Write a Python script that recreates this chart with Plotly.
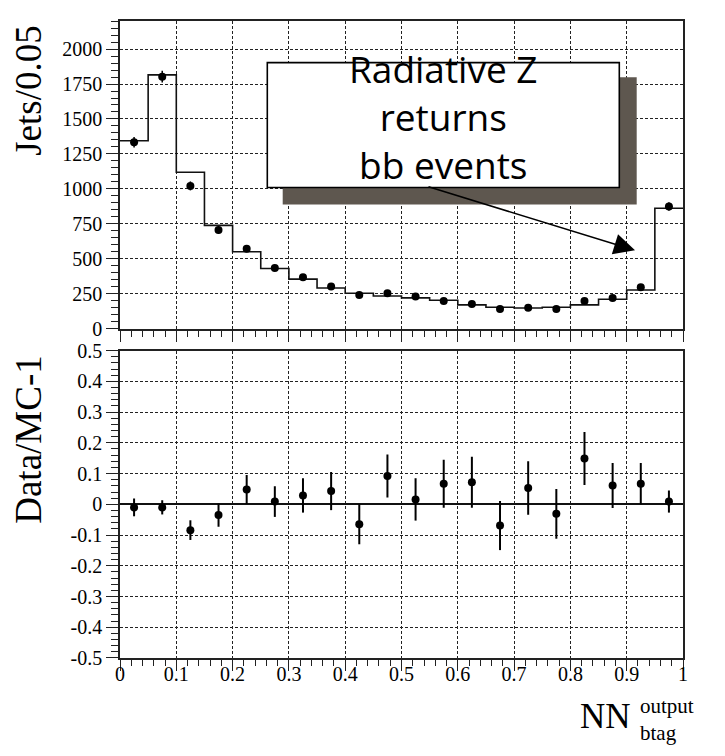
import plotly.graph_objects as go

# Bin centres of the NN b-tag output (bin width 0.05)
bin_centres = [0.025, 0.075, 0.125, 0.175, 0.225, 0.275, 0.325, 0.375, 0.425, 0.475,
               0.525, 0.575, 0.625, 0.675, 0.725, 0.775, 0.825, 0.875, 0.925, 0.975]
bin_edges = [0.0, 0.05, 0.10, 0.15, 0.20, 0.25, 0.30, 0.35, 0.40, 0.45, 0.50,
             0.55, 0.60, 0.65, 0.70, 0.75, 0.80, 0.85, 0.90, 0.95, 1.0]

# Simulated (MC) jets per bin
mc_jets = [1345, 1815, 1120, 740, 552, 432, 356, 293, 255, 236,
           222, 205, 172, 155, 150, 155, 172, 212, 278, 862]

# Observed jets per bin with statistical errors
data_jets = [1334, 1802, 1022, 707, 573, 435, 369, 304, 243, 255,
             232, 200, 178, 143, 152, 143, 200, 222, 298, 875]
data_err = [37, 42, 32, 27, 24, 21, 19, 17, 16, 16,
            15, 14, 13, 12, 12, 12, 14, 15, 17, 30]

# Data/MC - 1 with errors
ratio = [-0.010, -0.010, -0.084, -0.035, 0.048, 0.009, 0.029, 0.043, -0.065, 0.092,
         0.016, 0.067, 0.072, -0.069, 0.053, -0.031, 0.149, 0.061, 0.067, 0.009]
ratio_err = [0.029, 0.023, 0.032, 0.038, 0.047, 0.050, 0.056, 0.062, 0.065, 0.070,
             0.069, 0.078, 0.083, 0.080, 0.087, 0.081, 0.086, 0.073, 0.067, 0.036]

x_ticks = [0, 0.1, 0.2, 0.3, 0.4, 0.5, 0.6, 0.7, 0.8, 0.9, 1.0]
x_ticktext = ["0", "0.1", "0.2", "0.3", "0.4", "0.5", "0.6", "0.7", "0.8", "0.9", "1"]
top_yticks = [0, 250, 500, 750, 1000, 1250, 1500, 1750, 2000]
bot_yticks = [-0.5, -0.4, -0.3, -0.2, -0.1, 0, 0.1, 0.2, 0.3, 0.4, 0.5]
bot_yticktext = ["-0.5", "-0.4", "-0.3", "-0.2", "-0.1", "0", "0.1", "0.2", "0.3", "0.4", "0.5"]

SERIF = "Liberation Serif"
W, H = 725, 756
ML, MR, MT, MB = 120, 42, 10, 98
PW, PH = W - ML - MR, H - MT - MB


def px(x):
    return (x - ML) / PW


def py(y):
    return (H - MB - y) / PH


fig = go.Figure()

# MC histogram as a step line
fig.add_trace(go.Scatter(
    x=bin_edges, y=mc_jets + [mc_jets[-1]], mode="lines", line_shape="hv",
    line=dict(color="#111", width=1.6), xaxis="x", yaxis="y", showlegend=False,
    hoverinfo="skip"))

# Data points
fig.add_trace(go.Scatter(
    x=bin_centres, y=data_jets, mode="markers",
    marker=dict(color="black", size=8),
    error_y=dict(type="data", array=data_err, color="black", thickness=1.5, width=0),
    xaxis="x", yaxis="y", showlegend=False))

# Ratio points
fig.add_trace(go.Scatter(
    x=bin_centres, y=ratio, mode="markers",
    marker=dict(color="black", size=8),
    error_y=dict(type="data", array=ratio_err, color="black", thickness=2, width=0),
    xaxis="x2", yaxis="y2", showlegend=False))

tickfont = dict(family=SERIF, size=20, color="black")
grid = dict(showgrid=True, gridcolor="#222", gridwidth=1, griddash="3px,2px")
axline = dict(showline=True, linecolor="#222", linewidth=1.6, mirror=True)

xcommon = dict(range=[0, 1], tickvals=x_ticks, ticktext=x_ticktext,
               ticks="outside", ticklen=11, tickwidth=1.4, tickcolor="#222",
               minor=dict(dtick=0.02, ticks="outside", ticklen=6, tickwidth=1.2,
                          tickcolor="#222", showgrid=False),
               zeroline=False, tickfont=tickfont, **grid, **axline)

top_dom = [(H - MB - 323.3) / PH, 1.0]
bot_dom = [0.0, (H - MB - 345.3) / PH]

fig.update_layout(
    width=W, height=H,
    font=dict(family=SERIF, color="black"),
    margin=dict(l=ML, r=MR, t=MT, b=MB, pad=0),
    paper_bgcolor="white", plot_bgcolor="white",
    xaxis=dict(anchor="y", showticklabels=False, **xcommon),
    xaxis2=dict(anchor="y2", showticklabels=True, ticklabelstandoff=-14, **xcommon),
    yaxis=dict(domain=top_dom, anchor="x", range=[0, 2200], tickvals=top_yticks,
               ticks="outside", ticklen=12, tickwidth=1.4, tickcolor="#222",
               minor=dict(dtick=50, ticks="outside", ticklen=7, tickwidth=1.2,
                          tickcolor="#222", showgrid=False),
               zeroline=False, tickfont=tickfont, **grid, **axline),
    yaxis2=dict(domain=bot_dom, anchor="x2", range=[-0.5, 0.5], tickvals=bot_yticks,
                ticktext=bot_yticktext,
                ticks="outside", ticklen=12, tickwidth=1.4, tickcolor="#222",
                minor=dict(dtick=0.02, ticks="outside", ticklen=7, tickwidth=1.2,
                           tickcolor="#222", showgrid=False),
                zeroline=True, zerolinecolor="#111", zerolinewidth=1.6,
                tickfont=tickfont, **grid, **axline),
)

# Call-out box with drop shadow
fig.add_shape(type="rect", xref="paper", yref="paper",
              x0=px(282.7), x1=px(636.7), y0=py(196.7), y1=py(67.3),
              fillcolor="#5e574f", line=dict(width=0), layer="above")
fig.add_shape(type="rect", xref="paper", yref="paper",
              x0=px(267.3), x1=px(619.3), y0=py(179.3), y1=py(52.3),
              fillcolor="white", line=dict(color="black", width=1.6), layer="above")

annotations = [
    dict(text="Radiative Z<br>returns<br>bb events", xref="paper", yref="paper",
         x=px(443), y=py(107), xanchor="center", yanchor="middle", showarrow=False,
         font=dict(family="Open Sans, sans-serif", size=37, color="black")),
    # arrow pointing at the last bins
    dict(text="", xref="paper", yref="paper", x=px(635), y=py(243.3),
         ax=-208, ay=-64, axref="pixel", ayref="pixel", showarrow=True,
         arrowhead=2, arrowsize=2.8, arrowwidth=1.5, arrowcolor="black"),
    # axis titles
    dict(text="Jets/0.05", xref="paper", yref="paper", x=px(29), y=py(81),
         textangle=-90, showarrow=False, xanchor="center", yanchor="middle",
         font=dict(family=SERIF, size=37, color="black")),
    dict(text="Data/MC-1", xref="paper", yref="paper", x=px(29), y=py(436),
         textangle=-90, showarrow=False, xanchor="center", yanchor="middle",
         font=dict(family=SERIF, size=37, color="black")),
    dict(text="NN", xref="paper", yref="paper", x=px(578), y=py(718),
         xanchor="left", yanchor="middle", showarrow=False,
         font=dict(family=SERIF, size=35, color="black")),
    dict(text="output", xref="paper", yref="paper", x=px(639), y=py(707),
         xanchor="left", yanchor="middle", showarrow=False, borderpad=0,
         font=dict(family=SERIF, size=21, color="black")),
    dict(text="btag", xref="paper", yref="paper", x=px(639), y=py(734),
         xanchor="left", yanchor="middle", showarrow=False, borderpad=0,
         font=dict(family=SERIF, size=21, color="black")),
]
fig.update_layout(annotations=annotations)

fig.write_html("out.html")
